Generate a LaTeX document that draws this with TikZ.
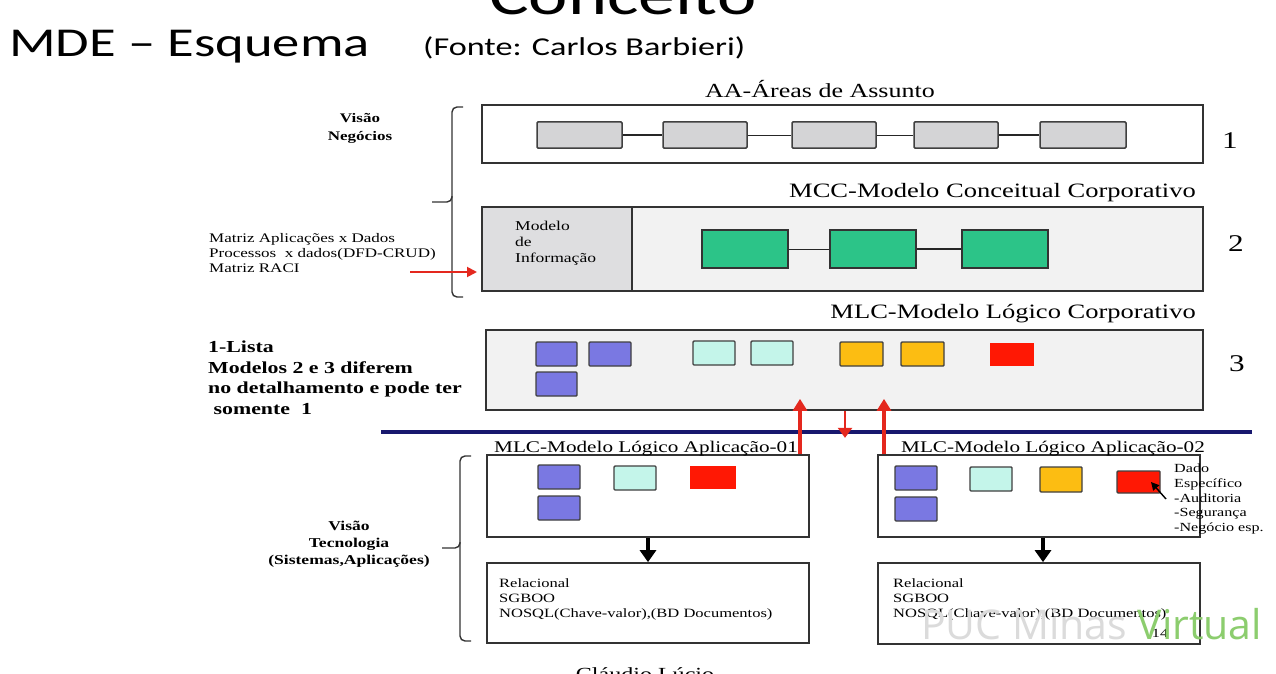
\documentclass[tikz,border=0pt]{standalone}
\usepackage{fontspec}
\setmainfont{Liberation Serif}[FakeStretch=1.3]
\newfontfamily\slidefont{Carlito}[FakeStretch=1.33]
\newfontfamily\markfont{Open Sans}
\usetikzlibrary{arrows.meta,fit}
\newcommand\fsz[2]{\fontsize{#1}{#2}\selectfont}

\definecolor{boxgray}{RGB}{212,212,214}
\definecolor{panel}{RGB}{242,242,242}
\definecolor{infogray}{RGB}{222,222,224}
\definecolor{entgreen}{RGB}{44,196,136}
\definecolor{tblue}{RGB}{122,120,226}
\definecolor{tcyan}{RGB}{196,245,234}
\definecolor{torange}{RGB}{252,189,18}
\definecolor{tred}{RGB}{255,24,4}
\definecolor{arrowred}{RGB}{228,40,30}
\definecolor{navyline}{RGB}{24,24,110}
\definecolor{markgreen}{RGB}{140,205,110}

\tikzset{
  layer/.style={draw=black!80, line width=1.7pt, inner sep=0pt},
  area/.style={draw=black!75, fill=boxgray, line width=1.5pt, rounded corners=1pt, inner sep=0pt},
  entity/.style={draw=black!80, fill=entgreen, line width=1.4pt, inner sep=0pt},
  tbl/.style={draw=black!75, line width=1.4pt, rounded corners=1pt, inner sep=0pt},
  link/.style={black!85, line width=1.1pt},
  brace/.style={black!80, line width=1.4pt, rounded corners=5pt},
  redarrow/.style={arrowred, line width=3.4pt, -{Triangle[width=14pt,length=12pt]}},
  blackarrow/.style={black, line width=3.4pt, -{Triangle[width=16pt,length=12pt]}},
  lbl/.style={inner sep=0pt, font=\fsz{12.7}{15}, align=left},
  title/.style={inner sep=0pt, font=\fsz{20}{24}},
  digit/.style={inner sep=0pt, font=\fsz{24}{26}, anchor=base},
}

\begin{document}
\begin{tikzpicture}[x=1pt,y=-1pt]
\clip (0,0) rectangle (1276,674);
\fill[white] (0,0) rectangle (1276,674);

% slide headings
\node[inner sep=0pt, anchor=base west, font=\slidefont\fsz{56}{60}] (conceito) at (489,15) {Conceito};
\node[inner sep=0pt, anchor=base west, font=\slidefont\fsz{41}{46}] (mde) at (9,57) {MDE – Esquema};
\node[inner sep=0pt, anchor=base west, font=\slidefont\fsz{25.7}{28}] (fonte) at (423,56) {(Fonte: Carlos Barbieri)};

% ---------- layer 1: subject areas
\node[layer, fit={(482,105)(1203,163)}] (aa) {};
\node[title, anchor=base] (aat) at (820,98) {AA-Áreas de Assunto};
\node[area, fit={(537,122)(622,148)}] (a1) {};
\node[area, fit={(663,122)(747,148)}] (a2) {};
\node[area, fit={(792,122)(876,148)}] (a3) {};
\node[area, fit={(914,122)(998,148)}] (a4) {};
\node[area, fit={(1040,122)(1126,148)}] (a5) {};
\draw[link] (a1) -- (a2);
\draw[link, line width=0.7pt] (a2) -- (a3);
\draw[link, line width=0.7pt] (a3) -- (a4);
\draw[link] (a4) -- (a5);
\node[digit] (n1) at (1230,148) {1};

% ---------- layer 2: corporate conceptual model
\node[layer, fill=panel, fit={(482,207)(1203,291)}] (mcc) {};
\node[layer, fill=infogray, fit={(482,207)(632,291)}] (info) {};
\node[lbl, font=\fsz{13.5}{16}, anchor=north west] (infot) at (515,221) {Modelo\\de\\Informação};
\node[title, font=\fsz{20.4}{24}, anchor=base east] (mcct) at (1196,197) {MCC-Modelo Conceitual Corporativo};
\node[entity, fit={(702,230)(788,268)}] (e1) {};
\node[entity, fit={(830,230)(916,268)}] (e2) {};
\node[entity, fit={(962,230)(1048,268)}] (e3) {};
\draw[link, line width=0.7pt] (e1) -- (e2);
\draw[link] (e2) -- (e3);
\node[digit] (n2) at (1236,251) {2};

% ---------- layer 3: corporate logical model
\node[layer, fill=panel, fit={(486,330)(1203,410)}] (mlc) {};
\node[title, font=\fsz{20.4}{24}, anchor=base east] (mlct) at (1196,318) {MLC-Modelo Lógico Corporativo};
\node[tbl, fill=tblue, fit={(536,342)(577,366)}] (c1) {};
\node[tbl, fill=tblue, fit={(589,342)(631,366)}] (c2) {};
\node[tbl, fill=tblue, fit={(536,372)(577,396)}] (c3) {};
\node[tbl, fill=tcyan, fit={(693,341)(735,365)}] (c4) {};
\node[tbl, fill=tcyan, fit={(751,341)(793,365)}] (c5) {};
\node[tbl, fill=torange, fit={(840,342)(883,366)}] (c6) {};
\node[tbl, fill=torange, fit={(901,342)(944,366)}] (c7) {};
\node[fill=tred, inner sep=0pt, fit={(990,343)(1034,366)}] (c8) {};
\node[digit] (n3) at (1237,371) {3};

% business-view brace and side notes
\draw[brace] (463,107) -- (452,107) -- (452,202) -- (432,202);
\draw[brace] (452,196) -- (452,297) -- (463,297);
\node[inner sep=0pt, font=\bfseries\fsz{13.1}{18}, align=center, anchor=north] (vneg) at (360,113) {Visão\\Negócios};
\node[lbl, font=\fsz{13.1}{15}, anchor=north west] (matriz) at (209,233) {Matriz Aplicações x Dados\\Processos \ x dados(DFD-CRUD)\\Matriz RACI};
\coordinate (mfrom) at (410,272);
\coordinate (mto) at (477,272);
\draw[redarrow, line width=1.9pt, -{Triangle[width=10pt,length=10pt]}] (mfrom) -- (mto);
\node[inner sep=0pt, font=\bfseries\fsz{16.8}{20.5}, align=left, anchor=north west] (lista) at (208,341)
  {1-Lista\\Modelos 2 e 3 diferem\\no detalhamento e pode ter\\\ somente \ 1};

% separation between business and technology views
\coordinate (sepl) at (381,432);
\coordinate (sepr) at (1252,432);
\draw[navyline, line width=3.4pt] (sepl) -- (sepr);

% ---------- application 01
\node[layer, fit={(487,455)(809,537)}] (app1) {};
\node[inner sep=0pt, font=\fsz{16.3}{20}, anchor=base west] (app1t) at (494,452) {MLC-Modelo Lógico Aplicação-01};
\node[tbl, fill=tblue, fit={(538,465)(580,489)}] (p1) {};
\node[tbl, fill=tblue, fit={(538,496)(580,520)}] (p2) {};
\node[tbl, fill=tcyan, fit={(614,466)(656,490)}] (p3) {};
\node[fill=tred, inner sep=0pt, fit={(690,466)(736,489)}] (p4) {};
\node[layer, fit={(487,563)(809,643)}] (db1) {};
\node[lbl, anchor=north west] (db1t) at (499,578) {Relacional\\SGBOO\\NOSQL(Chave-valor),(BD Documentos)};
\draw[blackarrow] (app1.south -| 648,0) -- (db1.north -| 648,0);

% ---------- application 02
\node[layer, fit={(878,455)(1200,537)}] (app2) {};
\node[inner sep=0pt, font=\fsz{16.3}{20}, anchor=base west] (app2t) at (901,452) {MLC-Modelo Lógico Aplicação-02};
\node[tbl, fill=tblue, fit={(895,466)(937,490)}] (q1) {};
\node[tbl, fill=tblue, fit={(895,497)(937,521)}] (q2) {};
\node[tbl, fill=tcyan, fit={(970,467)(1012,491)}] (q3) {};
\node[tbl, fill=torange, fit={(1040,467)(1082,492)}] (q4) {};
\node[tbl, fill=tred, fit={(1117,471)(1160,493)}] (q5) {};
\coordinate (ptr) at (1166,499);
\draw[black, line width=1.4pt, -{Triangle[width=8pt,length=8pt]}] (ptr) -- (q5.center -| 1151,0);
\node[inner sep=0pt, font=\fsz{12.4}{14.7}, align=left, anchor=north west] (dado) at (1174,464)
  {Dado\\Específico\\-Auditoria\\-Segurança\\-Negócio esp.};
\node[layer, fit={(878,563)(1200,644)}] (db2) {};
\node[lbl, anchor=north west] (db2t) at (893,578) {Relacional\\SGBOO\\NOSQL(Chave-valor),(BD Documentos)};
\node[inner sep=0pt, font=\fsz{12.4}{16}, anchor=base] (pg) at (1160,637) {14};
\draw[blackarrow] (app2.south -| 1043,0) -- (db2.north -| 1043,0);

% links between corporate and application models
\draw[redarrow] (app1.north -| 800,0) -- (mlc.south -| 800,0) -- ++(0,-12);
\draw[redarrow] (app2.north -| 884,0) -- (mlc.south -| 884,0) -- ++(0,-12);
\draw[redarrow, line width=2.8pt, -{Triangle[width=14pt,length=10pt]}] (mlc.south -| 845,0) -- ++(0,27);

% technology-view brace
\draw[brace] (471,456) -- (460,456) -- (460,548) -- (442,548);
\draw[brace] (460,542) -- (460,641) -- (471,641);
\node[inner sep=0pt, font=\bfseries\fsz{13.5}{17}, align=center, anchor=north] (vtec) at (349,521) {Visão\\Tecnologia\\(Sistemas,Aplicações)};

\node[inner sep=0pt, font=\fsz{18.5}{22}, anchor=base] (autor) at (645,680) {Cláudio Lúcio};

% broadcast mark
\node[inner sep=0pt, anchor=base west, font=\markfont\fsz{41}{46}] (mark) at (921,639)
  {\textcolor{black!14}{PUC Minas} \textcolor{markgreen}{Virtual}};
\end{tikzpicture}
\end{document}
